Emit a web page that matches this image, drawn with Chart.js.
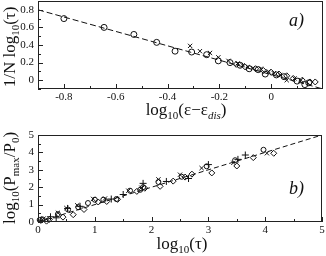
<!DOCTYPE html>
<html>
<head>
<meta charset="utf-8">
<script src="https://cdn.jsdelivr.net/npm/chart.js@4"></script>
<style>
html, body { margin: 0; padding: 0; background: #fff; }
.panel { position: absolute; left: 0; width: 326px; height: 128px; }
</style>
</head>
<body>
<div class="panel" style="top:0"><canvas id="chartA" width="326" height="128"></canvas></div>
<div class="panel" style="top:128px"><canvas id="chartB" width="326" height="128"></canvas></div>
<script>
// ---- panel a) data ----
const aCircX = [-0.8, -0.645, -0.53, -0.442, -0.371, -0.307, -0.249, -0.204, -0.159, -0.12, -0.085, -0.05, -0.023, 0.02, 0.05, 0.1, 0.13, 0.145];
const aCircY = [0.70, 0.60, 0.52, 0.43, 0.33, 0.32, 0.29, 0.22, 0.20, 0.17, 0.13, 0.12, 0.07, 0.06, 0.04, -0.01, -0.05, -0.03];
const aCrossX = [-0.313, -0.275, -0.236, -0.204, -0.165, -0.13, -0.11, -0.09, -0.07, -0.04, -0.01, 0.01, 0.035, 0.06, 0.09, 0.115];
const aCrossY = [0.39, 0.33, 0.31, 0.26, 0.22, 0.19, 0.17, 0.15, 0.14, 0.13, 0.10, 0.08, 0.06, 0.0, 0.02, 0.0];
const aDiamX = [-0.135, -0.1, -0.06, -0.03, 0.0, 0.03, 0.06, 0.085, 0.12, 0.15, 0.17];
const aDiamY = [0.18, 0.15, 0.13, 0.11, 0.09, 0.07, 0.05, 0.02, 0.0, -0.02, -0.02];
const aFitX = [-0.9, 0.2];
const aFitY = [0.8, -0.1];
const aXTicks = [-0.8, -0.6, -0.4, -0.2, 0];
const aYTicks = [0, 0.2, 0.4, 0.6, 0.8];

// ---- panel b) data ----
const bCircX = [0.03, 0.08, 0.35, 0.53, 0.71, 0.88, 1.0, 1.15, 1.38, 1.62, 1.8, 1.85, 2.12, 2.53, 2.97, 3.47, 3.97];
const bCircY = [0.12, 0.15, 0.45, 0.71, 0.85, 1.09, 1.28, 1.28, 1.32, 1.8, 1.85, 2.0, 2.3, 2.6, 3.2, 3.55, 4.15];
const bCrossX = [0.1, 0.35, 0.5, 0.69, 0.97, 1.18, 1.59, 1.82, 2.12, 2.5, 2.88, 3.44, 4.03];
const bCrossY = [0.2, 0.53, 0.8, 0.96, 1.33, 1.35, 1.8, 1.97, 2.45, 2.72, 3.1, 3.4, 3.95];
const bPlusX = [0.05, 0.22, 0.32, 0.52, 0.74, 1.29, 1.5, 1.85, 2.26, 2.65, 3.0, 3.52, 3.65];
const bPlusY = [0.1, 0.3, 0.24, 0.78, 0.9, 1.32, 1.58, 2.22, 2.33, 2.5, 3.3, 3.6, 3.85];
const bDiamX = [0.15, 0.2, 0.44, 0.62, 0.81, 1.06, 1.21, 1.4, 1.74, 1.88, 2.15, 2.38, 2.59, 2.71, 3.06, 3.5, 3.79, 4.15];
const bDiamY = [0.05, 0.15, 0.28, 0.42, 0.72, 1.15, 1.18, 1.3, 1.76, 1.94, 2.05, 2.35, 2.58, 2.75, 2.82, 3.22, 3.7, 3.95];
const bFitX = [0, 5];
const bFitY = [0, 5];
const bTicks = [0, 1, 2, 3, 4, 5];

const FONT = '"Liberation Serif", "DejaVu Serif", serif';
const zip = (xs, ys) => xs.map((x, i) => ({ x: x, y: ys[i] }));

function markers(xs, ys, style, r) {
    return {
        type: "scatter",
        data: zip(xs, ys),
        pointStyle: style,
        pointRadius: r,
        pointBorderColor: "#111",
        pointBackgroundColor: "rgba(0,0,0,0)",
        pointBorderWidth: 1,
        clip: 6
    };
}

function fitLine(xs, ys, dash) {
    return {
        type: "line",
        data: zip(xs, ys),
        borderColor: "#111",
        borderWidth: 1,
        borderDash: dash,
        pointRadius: 0,
        fill: false
    };
}

// draw a string made of pieces (subscripts, italics) centred on x,y
function drawRich(ctx, segs, x, y, angle) {
    ctx.save();
    ctx.translate(x, y);
    ctx.rotate(angle);
    ctx.fillStyle = "#111";
    ctx.textAlign = "left";
    ctx.textBaseline = "alphabetic";
    let w = 0;
    segs.forEach(s => { ctx.font = s.f; w += ctx.measureText(s.t).width; });
    let cx = -w / 2;
    segs.forEach(s => {
        ctx.font = s.f;
        ctx.fillText(s.t, cx, s.dy || 0);
        cx += ctx.measureText(s.t).width;
    });
    ctx.restore();
}

const frame = {
    id: "frame",
    afterDraw(chart, args, o) {
        const ctx = chart.ctx, a = chart.chartArea;
        const xs = chart.scales.x, ys = chart.scales.y;
        ctx.save();
        ctx.strokeStyle = "#222";
        ctx.lineWidth = 1;
        ctx.strokeRect(Math.round(a.left) + 0.5, Math.round(a.top) + 0.5,
            Math.round(a.right - a.left) - 1, Math.round(a.bottom - a.top) - 1);
        ctx.beginPath();
        const tick = (vals, len, horiz) => vals.forEach(v => {
            if (horiz) {
                const p = Math.round(xs.getPixelForValue(v)) + 0.5;
                ctx.moveTo(p, a.bottom); ctx.lineTo(p, a.bottom - len);
            } else {
                const p = Math.round(ys.getPixelForValue(v)) + 0.5;
                ctx.moveTo(a.left, p); ctx.lineTo(a.left + len, p);
            }
        });
        tick(o.xMajor, 5, true);
        tick(o.xMinor, 3, true);
        tick(o.yMajor, 5, false);
        tick(o.yMinor, 3, false);
        ctx.stroke();
        ctx.restore();
        drawRich(ctx, o.xTitle, o.xTitlePos[0], o.xTitlePos[1], 0);
        drawRich(ctx, o.yTitle, o.yTitlePos[0], o.yTitlePos[1], -Math.PI / 2);
        ctx.save();
        ctx.font = "italic 18px " + FONT;
        ctx.fillStyle = "#111";
        ctx.fillText(o.tag, o.tagPos[0], o.tagPos[1]);
        ctx.restore();
    }
};

function axes(xMin, xMax, xTicks, yMin, yMax, yTicks, xh) {
    const fmt = v => (v === 0 ? "0" : String(v));
    const common = {
        grid: { display: false, drawTicks: false },
        border: { display: false },
        ticks: { font: { family: FONT, size: 11 }, color: "#111", autoSkip: false, maxRotation: 0, callback: fmt }
    };
    return {
        x: Object.assign({}, common, {
            type: "linear", min: xMin, max: xMax,
            ticks: Object.assign({}, common.ticks, { padding: 2 }),
            afterBuildTicks: s => { s.ticks = xTicks.map(v => ({ value: v })); },
            afterFit: s => { s.height = xh; s.paddingLeft = 0; s.paddingRight = 0; }
        }),
        y: Object.assign({}, common, {
            type: "linear", min: yMin, max: yMax,
            ticks: Object.assign({}, common.ticks, { padding: 4 }),
            afterBuildTicks: s => { s.ticks = yTicks.map(v => ({ value: v })); },
            afterFit: s => { s.width = 38; s.paddingTop = 0; s.paddingBottom = 0; }
        })
    };
}

const SUB = "11px " + FONT, MAIN = "17px " + FONT;

// === a) ===
new Chart(document.getElementById("chartA"), {
    data: {
        datasets: [
            fitLine(aFitX, aFitY, [6, 3]),
            markers(aCircX, aCircY, "circle", 3),
            markers(aCrossX, aCrossY, "crossRot", 3),
            markers(aDiamX, aDiamY, "rectRot", 3)
        ]
    },
    options: {
        responsive: false,
        animation: false,
        devicePixelRatio: 1,
        layout: { autoPadding: false, padding: { top: 1, right: 3, left: 0, bottom: 0 } },
        plugins: {
            legend: { display: false },
            tooltip: { enabled: false },
            frame: {
                xMajor: aXTicks, xMinor: [-0.9, -0.7, -0.5, -0.3, -0.1, 0.1],
                yMajor: aYTicks, yMinor: [-0.1, 0.1, 0.3, 0.5, 0.7],
                xTitle: [
                    { t: "log", f: MAIN }, { t: "10", f: SUB, dy: 4 },
                    { t: "(\u03b5\u2212\u03b5", f: MAIN }, { t: "dis", f: "italic " + SUB, dy: 4 },
                    { t: ")", f: MAIN }
                ],
                xTitlePos: [186, 115],
                yTitle: [
                    { t: "1/N log", f: MAIN }, { t: "10", f: SUB, dy: 4 }, { t: "(\u03c4)", f: MAIN }
                ],
                yTitlePos: [15, 47],
                tag: "a)", tagPos: [289, 26]
            }
        },
        scales: axes(-0.9, 0.2, aXTicks, -0.1, 0.9, aYTicks, 39)
    },
    plugins: [frame]
});

// === b) ===
new Chart(document.getElementById("chartB"), {
    data: {
        datasets: [
            fitLine(bFitX, bFitY, [5, 3]),
            markers(bCircX, bCircY, "circle", 2.5),
            markers(bCrossX, bCrossY, "crossRot", 3),
            markers(bPlusX, bPlusY, "cross", 3.5),
            markers(bDiamX, bDiamY, "rectRot", 3)
        ]
    },
    options: {
        responsive: false,
        animation: false,
        devicePixelRatio: 1,
        layout: { autoPadding: false, padding: { top: 7, right: 4, left: 0, bottom: 0 } },
        plugins: {
            legend: { display: false },
            tooltip: { enabled: false },
            frame: {
                xMajor: bTicks, xMinor: [0.5, 1.5, 2.5, 3.5, 4.5],
                yMajor: bTicks, yMinor: [0.5, 1.5, 2.5, 3.5, 4.5],
                xTitle: [
                    { t: "log", f: MAIN }, { t: "10", f: SUB, dy: 4 }, { t: "(\u03c4)", f: MAIN }
                ],
                xTitlePos: [182, 121],
                yTitle: [
                    { t: "log", f: MAIN }, { t: "10", f: SUB, dy: 4 },
                    { t: "(P", f: MAIN }, { t: "max", f: SUB, dy: 4 },
                    { t: "/P", f: MAIN }, { t: "0", f: SUB, dy: 4 }, { t: ")", f: MAIN }
                ],
                yTitlePos: [15, 50],
                tag: "b)", tagPos: [289, 66]
            }
        },
        scales: axes(0, 5, bTicks, 0, 5, bTicks, 34)
    },
    plugins: [frame]
});
</script>
</body>
</html>
